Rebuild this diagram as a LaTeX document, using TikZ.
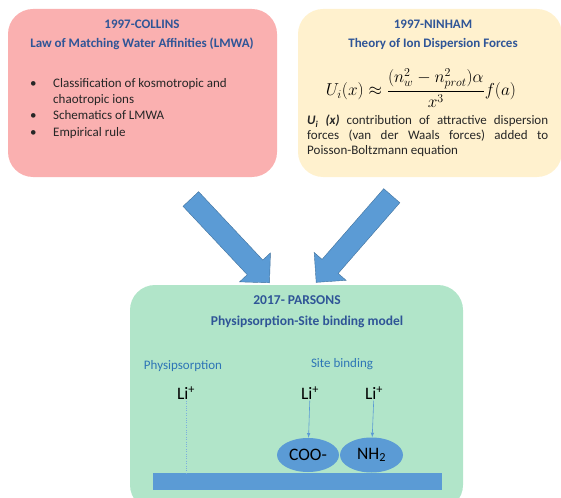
\documentclass[tikz,border=0pt]{standalone}
\usepackage{amsmath}
\usepackage{fontspec}
\setmainfont{Carlito}
\usetikzlibrary{positioning,shapes.geometric,shapes.arrows}
\definecolor{pinkbox}{RGB}{250,176,176}
\definecolor{yellowbox}{RGB}{255,241,206}
\definecolor{greenbox}{RGB}{177,229,201}
\definecolor{titleblue}{RGB}{47,85,151}
\definecolor{labelblue}{RGB}{46,117,182}
\definecolor{shapeblue}{RGB}{91,155,213}
\definecolor{edgeblue}{RGB}{65,113,156}
\definecolor{darktext}{RGB}{38,38,38}
\begin{document}
\begin{tikzpicture}[x=1pt,y=-1pt,
box/.style={%
rounded corners=25pt,
inner sep=0pt
},
title/.style={font=\fontsize{13}{15}\selectfont\bfseries, text=titleblue},
body/.style={font=\fontsize{13}{16}\selectfont, text=darktext, anchor=base west, inner sep=0pt},
bigarrow/.style={single arrow, fill=shapeblue, draw=edgeblue, line width=0.4pt,
  inner xsep=0pt, inner ysep=10.5pt, single arrow head extend=10.5pt,
  single arrow tip angle=90, minimum height=115pt},
site/.style={ellipse, fill=shapeblue, inner sep=0pt, font=\fontsize{17.5}{20}\selectfont, text=black},
ion/.style={font=\fontsize{17.5}{20}\selectfont, text=black, inner sep=1pt},
sublabel/.style={font=\fontsize{13}{15}\selectfont, text=labelblue}
]
\useasboundingbox (0,0) rectangle (561,497);
%% Boxes
\node[box, fill=pinkbox, minimum width=269pt, minimum height=168pt] (collins) at (142.5,93) {};
\node[box, fill=yellowbox, minimum width=264pt, minimum height=168pt] (ninham) at (430,93) {};
\node[box, fill=greenbox, minimum width=333pt, minimum height=225pt] (parsons) at (296.5,397.5) {};
%% Collins
\node[title] (ct1) at (142,24) {1997-COLLINS};
\node[title] (ct2) at (142,44) {Law of Matching Water Affinities (LMWA)};
\node[body] (d1) at (30,88) {\textbullet};
\node[body] (l1) at (53,88) {Classification of kosmotropic and};
\node[body] (l2) at (53,104) {chaotropic ions};
\node[body] (d3) at (30,120) {\textbullet};
\node[body] (l3) at (53,120) {Schematics of LMWA};
\node[body] (d4) at (30,136) {\textbullet};
\node[body] (l4) at (53,136) {Empirical rule};
%% Ninham
\node[title] (nt1) at (433,24) {1997-NINHAM};
\node[title] (nt2) at (433,44) {Theory of Ion Dispersion Forces};
\node[font=\fontsize{17.5}{20}\selectfont] (eq) at (421,88)
  {$\displaystyle U_i(x)\approx\frac{(n_w^2-n_{prot}^2)\alpha}{x^3}f(a)$};
\node[body, anchor=north west, text width=241pt, align=justify,
  font=\fontsize{13}{15}\selectfont] (para) at (307,115)
  {\textbf{\textit{U\textsubscript{i} (x)}} contribution of attractive dispersion\linebreak
   forces (van der Waals forces) added to\linebreak Poisson-Boltzmann equation};
%% Arrows
\node[bigarrow, rotate=-46.8] (arrl) at (226.5,237) {};
\node[bigarrow, rotate=-131.1] (arrr) at (357.5,235) {};
%% Parsons
\node[title, font=\fontsize{13.5}{15}\selectfont\bfseries] (pt1) at (297,300) {2017- PARSONS};
\node[title, font=\fontsize{13.5}{15}\selectfont\bfseries] (pt2) at (307,322) {Physipsorption-Site binding model};
\node[sublabel] (phys) at (183,366) {Physipsorption};
\node[sublabel] (site) at (342,364) {Site binding};
\node[ion] (li1) at (186,393) {Li\textsuperscript{+}};
\node[ion] (li2) at (310,393) {Li\textsuperscript{+}};
\node[ion] (li3) at (374,393) {Li\textsuperscript{+}};
\node[fill=shapeblue, inner sep=0pt, minimum width=289pt, minimum height=17pt] (bar) at (297.5,481.5) {};
\node[site, minimum width=62pt, minimum height=34pt] (coo) at (308,455) {COO-};
\node[site, minimum width=63pt, minimum height=35pt] (nh) at (371.5,455) {NH\textsubscript{2}};
\draw[-{latex}, shapeblue, line width=0.6pt](li2)--(coo);
\draw[-{latex}, shapeblue, line width=0.6pt](li3)--(nh);
\draw[dotted, shapeblue!80](li1)--(li1 |- bar.north);
\end{tikzpicture}
\end{document}
